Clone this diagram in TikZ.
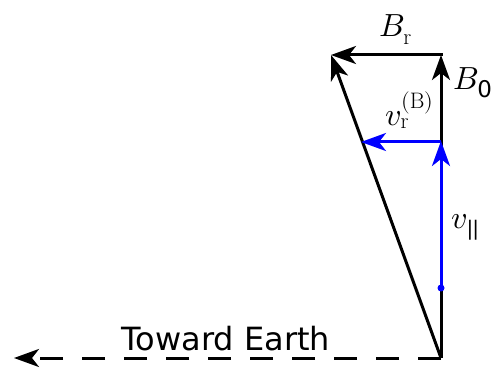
\documentclass[tikz,border=0pt]{standalone}
\usepackage{fontspec}
\usepackage{unicode-math}
\setmathfont{Latin Modern Math}
\newfontfamily\dejavu{DejaVu Sans}
\usetikzlibrary{arrows.meta}
\tikzset{
  vec/.style={line width=3pt, -{Stealth[length=25pt,width=18pt,inset=7pt]}},
  bvec/.style={vec, blue},
  lbl/.style={inner sep=0pt, font=\fontsize{32}{38}\selectfont},
}
\begin{document}
\begin{tikzpicture}[x=1pt,y=-1pt]
\useasboundingbox (0,0) rectangle (496,369);
\coordinate (O) at (441,358);
\coordinate (T) at (441,55);
\coordinate (H) at (442.5,55);
\coordinate (L) at (331,55);
\coordinate (E) at (14,358);
\coordinate (P) at (441,288);
\coordinate (Q) at (441,141);
\coordinate (R) at (361,142);
% dashed toward earth
\draw[vec, dash pattern=on 23pt off 19pt] (O) -- (E);
\node[anchor=base, inner sep=0pt, font=\dejavu\fontsize{32}{38}\selectfont] (te) at (226,350) {Toward Earth};
% black vectors
\draw[vec] (O) -- (T);
\draw[vec] (H) -- (L);
\draw[vec] (O) -- (L);
% blue vectors
\draw[bvec] (P) -- (Q);
\draw[bvec] (441,142) -- (R);
\fill[blue] (P) circle (3.5pt);
% labels
\node[lbl, anchor=base west] (br) at (379,37) {$B_{\mathrm{r}}$};
\node[lbl, anchor=base west] (b0) at (453,90) {$B_{\mbox{\dejavu\fontsize{23}{23}\selectfont 0}}$};
\node[lbl, anchor=base west] (vr) at (385,125) {$v_{\mathrm{r}}^{\mathrm{(B)}}$};
\node[lbl, anchor=base west] (vp) at (451,228) {$v_{\mbox{\dejavu\fontsize{20}{20}\selectfont |\kern-1pt|}}$};
\end{tikzpicture}
\end{document}
